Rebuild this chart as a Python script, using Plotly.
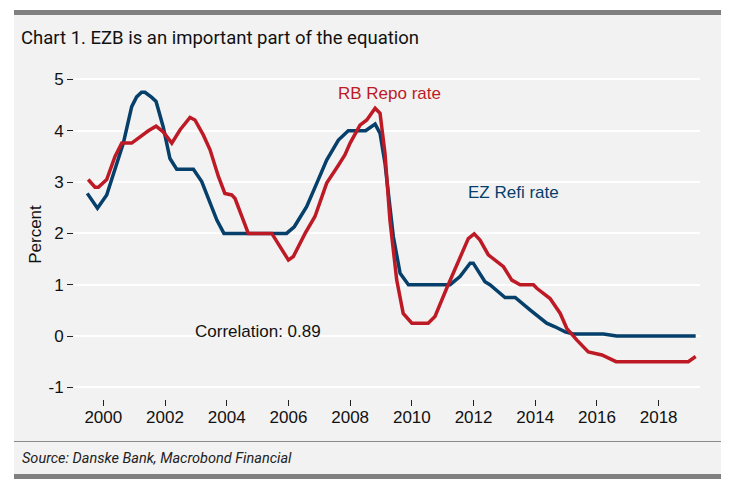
import plotly.graph_objects as go

# ---------------- data ----------------
ez_years = [1999.48, 1999.81, 2000.11, 2000.43, 2000.65, 2000.92, 2001.08, 2001.24, 2001.35,
            2001.57, 2001.71, 2001.94, 2002.16, 2002.38, 2002.92, 2003.19, 2003.68, 2003.91,
            2005.94, 2006.19, 2006.59, 2006.92, 2007.24, 2007.62, 2007.94, 2008.50, 2008.81,
            2008.97, 2009.13, 2009.19, 2009.40, 2009.62, 2009.89, 2011.24, 2011.56, 2011.89,
            2011.99, 2012.37, 2012.53, 2013.02, 2013.35, 2013.83, 2014.16, 2014.37, 2014.64,
            2014.97, 2015.24, 2016.21, 2016.64, 2019.20]
ez_refi = [2.78, 2.49, 2.75, 3.33, 3.76, 4.47, 4.66, 4.75, 4.75,
           4.65, 4.57, 4.08, 3.46, 3.25, 3.25, 3.01, 2.26, 2.00,
           2.00, 2.13, 2.52, 2.98, 3.43, 3.82, 4.00, 4.00, 4.13,
           3.95, 3.37, 3.04, 1.94, 1.22, 1.00, 1.00, 1.16, 1.42,
           1.42, 1.06, 1.00, 0.75, 0.75, 0.51, 0.34, 0.25, 0.18,
           0.08, 0.04, 0.04, 0.00, 0.00]

rb_years = [1999.51, 1999.73, 1999.84, 2000.11, 2000.38, 2000.60, 2000.92, 2001.19, 2001.46,
            2001.71, 2001.94, 2002.22, 2002.49, 2002.81, 2002.97, 2003.24, 2003.46, 2003.73,
            2003.94, 2004.16, 2004.27, 2004.49, 2004.70, 2005.46, 2006.00, 2006.16, 2006.54,
            2006.86, 2007.24, 2007.62, 2007.83, 2008.00, 2008.32, 2008.54, 2008.81, 2008.97,
            2009.13, 2009.29, 2009.51, 2009.72, 2010.00, 2010.53, 2010.75, 2011.13, 2011.56,
            2011.83, 2012.02, 2012.21, 2012.48, 2012.70, 2012.97, 2013.24, 2013.51, 2013.94,
            2014.05, 2014.48, 2014.81, 2015.02, 2015.35, 2015.72, 2016.00, 2016.16, 2016.62,
            2018.96, 2019.20]
rb_repo = [3.05, 2.90, 2.90, 3.05, 3.50, 3.76, 3.76, 3.89, 4.00,
           4.09, 3.98, 3.76, 4.02, 4.26, 4.21, 3.92, 3.63, 3.11,
           2.78, 2.75, 2.68, 2.33, 2.00, 2.00, 1.48, 1.55, 2.00,
           2.33, 2.98, 3.33, 3.53, 3.76, 4.11, 4.21, 4.44, 4.34,
           3.56, 2.26, 1.09, 0.44, 0.25, 0.25, 0.38, 0.93, 1.55,
           1.90, 1.99, 1.87, 1.58, 1.48, 1.35, 1.09, 1.00, 1.00,
           0.93, 0.73, 0.44, 0.15, -0.08, -0.31, -0.35, -0.37, -0.50,
           -0.50, -0.40]

x_ticks = [2000, 2002, 2004, 2006, 2008, 2010, 2012, 2014, 2016, 2018]
y_ticks = [-1, 0, 1, 2, 3, 4, 5]
y_tick_labels = ["-1", "0", "1", "2", "3", "4", "5"]

title_text = "Chart 1. EZB is an important part of the equation"
source_text = "Source: Danske Bank, Macrobond Financial"

# ---------------- styling / layout ----------------
OFF = 8                      # page body margin of the rendered html
W, H = 729 - OFF, 481 - OFF
ML, MT = 74 - OFF, 70 - OFF
MR = W - (700 - OFF)
MB = H - (399 - OFF)
PW, PH = W - ML - MR, H - MT - MB
BLUE = "#053f6a"
RED = "#bd1a26"
PANEL = "#f2f2f2"


def px(x):
    return (x - OFF - ML) / PW


def py(y):
    return 1 - (y - OFF - MT) / PH


fig = go.Figure()
fig.add_trace(go.Scatter(x=ez_years, y=ez_refi, mode="lines",
                         line=dict(color=BLUE, width=3.5), name="EZ Refi rate"))
fig.add_trace(go.Scatter(x=rb_years, y=rb_repo, mode="lines",
                         line=dict(color=RED, width=3.5), name="RB Repo rate"))

shapes = [
    dict(type="rect", xref="paper", yref="paper", x0=px(14), x1=px(721), y0=py(15), y1=py(474),
         fillcolor=PANEL, line=dict(width=0), layer="below"),
    dict(type="rect", xref="paper", yref="paper", x0=px(14), x1=px(721), y0=py(10), y1=py(15),
         fillcolor="#808080", line=dict(width=0), layer="below"),
    dict(type="rect", xref="paper", yref="paper", x0=px(14), x1=px(721), y0=py(474), y1=py(479),
         fillcolor="#808080", line=dict(width=0), layer="below"),
    dict(type="line", xref="paper", yref="paper", x0=px(14), x1=px(721), y0=py(441.5), y1=py(441.5),
         line=dict(color="#8a8a8a", width=1.2), layer="below"),
]

annotations = [
    dict(text=title_text, xref="paper", yref="paper", x=px(19), y=py(38), xanchor="left",
         yanchor="middle", showarrow=False, font=dict(family="Roboto", size=18.5, color="#111111")),
    dict(text="<i>" + source_text + "</i>", xref="paper", yref="paper", x=px(20), y=py(458),
         xanchor="left", yanchor="middle", showarrow=False,
         font=dict(family="Roboto", size=14.5, color="#222222")),
    dict(text="RB Repo rate", x=2009.29, y=4.72, xref="x", yref="y", showarrow=False,
         font=dict(family="Liberation Sans, Arial", size=17, color=RED)),
    dict(text="EZ Refi rate", x=2013.30, y=2.79, xref="x", yref="y", showarrow=False,
         font=dict(family="Liberation Sans, Arial", size=17, color=BLUE)),
    dict(text="Correlation: 0.89", x=2005.01, y=0.08, xref="x", yref="y", showarrow=False,
         font=dict(family="Liberation Sans, Arial", size=17, color="#111111")),
]

fig.update_layout(
    width=W, height=H,
    margin=dict(l=ML, r=MR, t=MT, b=MB, pad=0),
    paper_bgcolor="white",
    plot_bgcolor=PANEL,
    showlegend=False,
    shapes=shapes,
    annotations=annotations,
    font=dict(family="Liberation Sans, Arial", size=17, color="#111111"),
    xaxis=dict(range=[1999.05, 2019.34], tickvals=x_ticks, ticks="outside", ticklen=6,
               tickcolor="#222222", tickwidth=1, showgrid=False, zeroline=False, showline=False,
               ticklabelstandoff=-3, tickfont=dict(size=17, color="#111111")),
    yaxis=dict(range=[-1.228, 5.185], tickvals=y_ticks, ticktext=y_tick_labels,
               ticks="outside", ticklen=6,
               tickcolor="#222222", tickwidth=1, showgrid=True, gridcolor="white", gridwidth=1.5,
               zeroline=False, showline=False, tickfont=dict(size=17, color="#111111"),
               title=dict(text="Percent", standoff=2, font=dict(size=17, color="#111111"))),
)

fig.write_html("out.html")
